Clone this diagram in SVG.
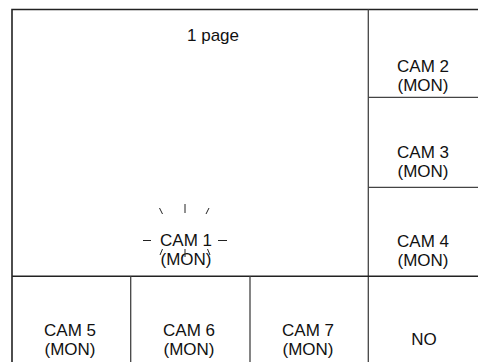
<svg xmlns="http://www.w3.org/2000/svg" width="478" height="362" viewBox="0 0 478 362">
<style>
.t{font-family:"Liberation Sans",Arial,sans-serif;font-size:17px;fill:#111;text-anchor:middle}
.o{stroke:#222;stroke-width:1.6;fill:none}
.i{stroke:#444;stroke-width:1.3;fill:none}
.s{stroke:#222;stroke-width:1;fill:none}
</style>
<rect width="478" height="362" fill="#fff"/>
<g id="connectors">
<path class="o" d="M12 370V9.5H490"/>
<path class="i" d="M368.3 9.5V370"/>
<path class="i" d="M368.3 97.3H480M368.3 187.3H480"/>
<path class="o" d="M12 276.3H480"/>
<path class="i" d="M130.7 276.3V370M250 276.3V370"/>
</g>
<g id="main"><text class="t" x="213" y="41">1 page</text></g>
<g id="cam1">
<text class="t" x="186" y="246">CAM 1</text>
<text class="t" x="186" y="265">(MON)</text>
<path class="s" d="M143 240.5H151M218 240.5H227M159.5 208L162.5 214M185 204V213M209 208L206 214M162.5 249L160 255M185 249V257M207.5 249L210 255"/>
</g>
<g id="cam2"><text class="t" x="423" y="72">CAM 2</text><text class="t" x="423" y="91">(MON)</text></g>
<g id="cam3"><text class="t" x="423" y="158">CAM 3</text><text class="t" x="423" y="177">(MON)</text></g>
<g id="cam4"><text class="t" x="423" y="247">CAM 4</text><text class="t" x="423" y="266">(MON)</text></g>
<g id="cam5"><text class="t" x="70" y="336">CAM 5</text><text class="t" x="70" y="355">(MON)</text></g>
<g id="cam6"><text class="t" x="189" y="336">CAM 6</text><text class="t" x="189" y="355">(MON)</text></g>
<g id="cam7"><text class="t" x="308" y="336">CAM 7</text><text class="t" x="308" y="355">(MON)</text></g>
<g id="no"><text class="t" x="424" y="345">NO</text></g>
</svg>
